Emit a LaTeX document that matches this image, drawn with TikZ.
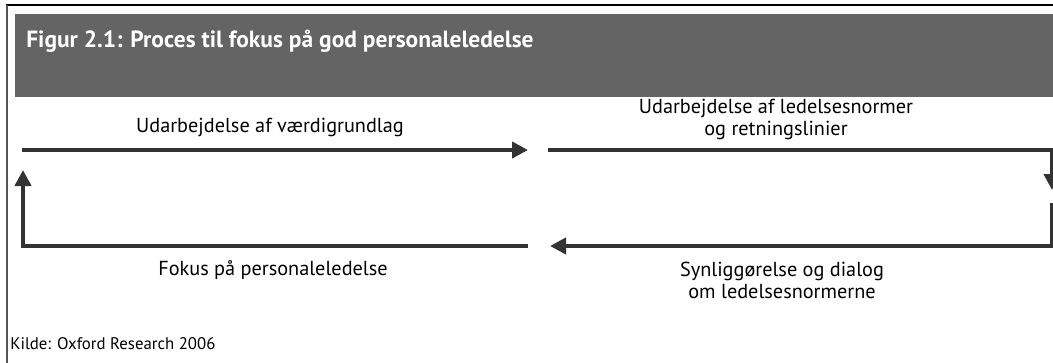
\documentclass[tikz,border=0pt]{standalone}
\usepackage{fontspec}
\setmainfont{PT Sans}
\usetikzlibrary{arrows.meta}
\definecolor{headgrey}{HTML}{646464}
\definecolor{flowgrey}{HTML}{333333}
\definecolor{framegrey}{HTML}{555555}
\tikzset{
  flow/.style={draw=flowgrey, line width=3pt, line join=miter},
  flowarrow/.style={flow, -{Triangle[length=12pt,width=12pt]}},
  steplabel/.style={font=\fontsize{15.2}{16.5}\selectfont, align=center, text=black, inner sep=0pt, anchor=base},
  titletext/.style={font=\fontsize{17.6}{20}\selectfont\bfseries, text=white, anchor=base west, inner sep=0pt},
  sourcetext/.style={font=\fontsize{12.6}{14}\selectfont, anchor=base west, inner sep=0pt}
}
\begin{document}
\begin{tikzpicture}[x=0.75pt,y=-0.75pt]
  \useasboundingbox (0,0) rectangle (1053,362);
  \begin{scope}
  \clip (0,0) rectangle (1053,362);
  % outer frame
  \draw[black, line width=1.5pt] (6,5) -- (1060,5);
  \draw[framegrey, line width=1.5pt] (7,5) -- (7,370);
  % header band
  \fill[headgrey] (15,14) rectangle (1060,97);
  \node[titletext] (title) at (26,47) {Figur 2.1: Proces til fokus på god personaleledelse};

  % corner points of the cycle
  \coordinate (a1) at (22,150);
  \coordinate (a2) at (528,150);
  \coordinate (b1) at (548,150);
  \coordinate (b2) at (1052,150);
  \coordinate (b3) at (1052,190);
  \coordinate (c1) at (1052,203);
  \coordinate (c2) at (1052,246);
  \coordinate (c3) at (550,246);
  \coordinate (d1) at (528,246);
  \coordinate (d2) at (23,246);
  \coordinate (d3) at (23,170);

  \draw[flowarrow] (a1) -- (a2);
  \draw[flowarrow] (b1) -- (b2) -- (b3);
  \draw[flowarrow] (c1) -- (c2) -- (c3);
  \draw[flowarrow] (d1) -- (d2) -- (d3);
  \end{scope}

  % step labels (multi-line nodes sit on the baseline of their last line)
  \node[steplabel] (s1) at (270,132) {Udarbejdelse af værdigrundlag};
  \node[steplabel] (s2) at (776,135) {Udarbejdelse af ledelsesnormer\\og retningslinier};
  \node[steplabel] (s3) at (782,298) {Synliggørelse og dialog\\om ledelsesnormerne};
  \node[steplabel] (s4) at (273,275) {Fokus på personaleledelse};

  \node[sourcetext] (src) at (10,349) {Kilde: Oxford Research 2006};
\end{tikzpicture}
\end{document}
